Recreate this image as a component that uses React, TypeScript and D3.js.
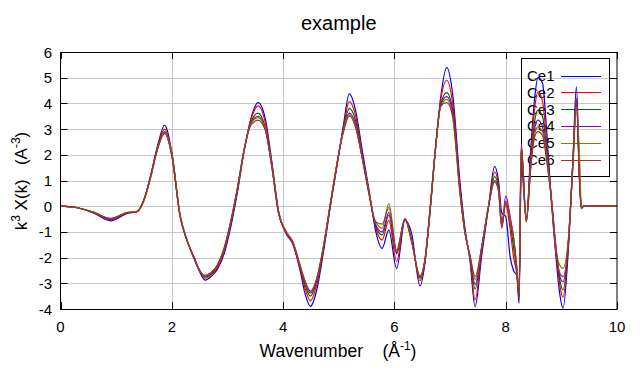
import React, { useEffect, useRef } from 'react';
import * as d3 from 'd3';

// wavenumber grid (Å^-1) shared by all series
const kValues = [
  0, 0.3, 0.6, 0.9, 1.2, 1.37, 1.5, 1.62, 1.75, 1.87,
  2.0, 2.15, 2.27, 2.4, 2.5, 2.6, 2.7, 2.82, 2.94, 3.06,
  3.18, 3.3, 3.42, 3.55, 3.68, 3.8, 3.92, 4.05, 4.18, 4.3,
  4.4, 4.49, 4.6, 4.72, 4.85, 4.97, 5.08, 5.19, 5.3, 5.42,
  5.55, 5.66, 5.78, 5.9, 6.04, 6.19, 6.31, 6.46, 6.55, 6.64,
  6.73, 6.83, 6.94, 7.05, 7.18, 7.27, 7.36, 7.45, 7.57, 7.69,
  7.8, 7.87, 7.93, 8.0, 8.08, 8.14, 8.2, 8.24, 8.28, 8.37,
  8.45, 8.52, 8.58, 8.66, 8.74, 8.82, 8.9, 8.97, 9.03, 9.12,
  9.21, 9.27, 9.33, 9.36, 9.4, 10
];

const ce1 = [
  0, -0.06, -0.27, -0.57, -0.28, -0.22, 0.25, 1.2, 2.4, 3.15,
  2.1, -0.35, -1.3, -2.05, -2.55, -2.88, -2.75, -2.45, -1.85, -0.8,
  0.55, 2.15, 3.4, 4.03, 3.4, 1.7, -0.2, -1.05, -1.5, -2.45,
  -3.45, -3.9, -3.3, -1.85, 0.0, 1.6, 3.1, 4.37, 3.75, 2.2,
  0.55, -0.93, -1.64, -0.93, -2.43, -0.55, -1.06, -3.1, -2.2, -0.25,
  2.0, 4.2, 5.4, 4.3, 0.9, -0.9, -2.15, -3.91, -1.9, -0.05,
  1.55, 1.0, -0.26, -0.4, -1.97, -2.5, -2.7, -3.78, 1.6, -0.5,
  2.2, 4.2, 5.0, 4.8, 2.8, 0.2, -1.9, -3.39, -3.97, -1.9,
  1.9, 4.65, 1.0, -0.08, 0, 0
];

const ce2 = [
  0, -0.06, -0.25, -0.52, -0.26, -0.22, 0.25, 1.18, 2.35, 3.0,
  2.05, -0.38, -1.32, -2.0, -2.5, -2.8, -2.68, -2.38, -1.75, -0.7,
  0.62, 2.18, 3.35, 3.9, 3.25, 1.6, -0.25, -1.02, -1.48, -2.38,
  -3.25, -3.68, -3.1, -1.75, 0.05, 1.63, 3.0, 4.07, 3.55, 2.05,
  0.48, -0.8, -1.32, -0.55, -2.15, -0.5, -1.3, -2.9, -2.12, -0.2,
  2.03, 4.1, 4.9, 3.95, 0.7, -0.98, -2.05, -3.65, -1.7, -0.03,
  1.33, 0.85, -0.6, 0.05, -0.9, -1.97, -2.65, -3.6, 2.2, -0.55,
  1.9, 3.8, 4.45, 4.1, 2.4, 0.3, -1.75, -3.05, -3.55, -1.7,
  1.8, 4.15, 0.9, -0.08, 0, 0
];

const ce3 = [
  0, -0.06, -0.25, -0.5, -0.25, -0.21, 0.25, 1.15, 2.3, 2.9,
  2.0, -0.4, -1.32, -2.0, -2.5, -2.75, -2.64, -2.32, -1.7, -0.65,
  0.68, 2.2, 3.25, 3.62, 3.05, 1.55, -0.28, -1.0, -1.45, -2.32,
  -3.1, -3.5, -2.95, -1.7, 0.08, 1.65, 2.95, 3.81, 3.35, 1.95,
  0.45, -0.75, -1.12, -0.35, -1.85, -0.5, -1.35, -2.8, -2.1, -0.16,
  2.06, 3.95, 4.42, 3.7, 0.6, -1.02, -1.98, -3.23, -1.62, -0.03,
  1.15, 0.75, -0.75, 0.15, -0.6, -1.6, -2.5, -3.5, 2.2, -0.6,
  1.7, 3.3, 3.74, 3.5, 2.1, 0.3, -1.6, -2.85, -3.26, -1.6,
  1.8, 4.1, 0.9, -0.08, 0, 0
];

const ce4 = [
  0, -0.06, -0.24, -0.49, -0.25, -0.22, 0.25, 1.15, 2.3, 2.85,
  2.0, -0.4, -1.32, -2.0, -2.5, -2.7, -2.6, -2.3, -1.65, -0.6,
  0.7, 2.2, 3.2, 3.5, 3.0, 1.5, -0.3, -1.0, -1.45, -2.3,
  -3.0, -3.38, -2.9, -1.65, 0.1, 1.67, 2.9, 3.62, 3.2, 1.9,
  0.42, -0.7, -1.0, -0.25, -1.8, -0.48, -1.35, -2.75, -2.08, -0.15,
  2.06, 3.9, 4.26, 3.6, 0.55, -1.05, -1.95, -3.05, -1.58, -0.02,
  1.0, 0.7, -0.8, 0.4, -0.4, -1.2, -2.4, -3.4, 2.45, -0.6,
  1.6, 3.0, 3.35, 3.1, 1.9, 0.35, -1.5, -2.7, -2.94, -1.55,
  1.8, 4.2, 0.9, -0.08, 0, 0
];

const ce5 = [
  0, -0.06, -0.24, -0.47, -0.24, -0.2, 0.2, 1.1, 2.25, 2.85,
  2.05, -0.35, -1.28, -2.0, -2.5, -2.72, -2.6, -2.3, -1.65, -0.6,
  0.7, 2.2, 3.2, 3.45, 3.0, 1.55, -0.25, -0.95, -1.4, -2.25,
  -2.95, -3.33, -2.85, -1.6, 0.12, 1.7, 2.9, 3.55, 3.1, 1.9,
  0.45, -0.6, -0.85, 0.1, -1.7, -0.5, -1.4, -2.7, -2.05, -0.15,
  2.05, 3.85, 4.16, 3.4, 0.45, -1.06, -1.92, -2.85, -1.55, 0.0,
  0.98, 0.63, -0.8, 0.2, -0.5, -1.2, -2.4, -3.4, 2.3, -0.6,
  1.5, 2.8, 3.1, 2.9, 1.8, 0.3, -1.7, -2.29, -2.42, -1.4,
  1.6, 3.9, 1.79, -0.1, 0, 0
];

const ce6 = [
  0, -0.06, -0.24, -0.48, -0.25, -0.22, 0.25, 1.15, 2.28, 2.82,
  1.95, -0.42, -1.32, -2.0, -2.5, -2.7, -2.6, -2.28, -1.62, -0.58,
  0.72, 2.2, 3.15, 3.35, 2.95, 1.5, -0.3, -1.0, -1.42, -2.28,
  -2.95, -3.3, -2.85, -1.65, 0.1, 1.67, 2.85, 3.5, 3.1, 1.9,
  0.4, -0.6, -0.7, -0.05, -1.75, -0.5, -1.35, -2.75, -2.05, -0.12,
  2.08, 3.9, 4.03, 3.5, 0.5, -1.06, -1.95, -2.74, -1.58, -0.03,
  0.95, 0.6, -0.86, 0.17, -0.55, -1.2, -2.48, -3.45, 2.3, -0.6,
  1.5, 2.7, 2.9, 2.75, 1.7, 0.3, -1.6, -2.6, -2.74, -1.55,
  1.79, 4.1, 0.7, -0.08, 0, 0
];

const seriesNames = ['Ce1', 'Ce2', 'Ce3', 'Ce4', 'Ce5', 'Ce6'];
const seriesValues = [ce1, ce2, ce3, ce4, ce5, ce6];
const seriesColors = ['#0000e0', '#ff0000', '#006400', '#8c00c8', '#808000', '#a03232'];

const xTicks = [0, 2, 4, 6, 8, 10];
const yTicks = [-4, -3, -2, -1, 0, 1, 2, 3, 4, 5, 6];

function App() {
  const ref = useRef<SVGSVGElement>(null);

  useEffect(() => {
    const W = 640;
    const H = 384;
    const left = 60.5, right = 617, top = 52, bottom = 309;
    const font = '"Liberation Sans", Arial, sans-serif';

    const svg = d3.select(ref.current);
    svg.selectAll('*').remove();
    svg.attr('width', W).attr('height', H);

    svg.append('rect').attr('width', W).attr('height', H).attr('fill', '#fff');

    const x = d3.scaleLinear().domain([0, 10]).range([left, right]);
    const y = d3.scaleLinear().domain([-4, 6]).range([bottom, top]);

    // grid
    const grid = svg.append('g').attr('stroke', '#c8c8c8').attr('stroke-width', 1);
    grid.selectAll('.gx')
      .data(xTicks.slice(1, -1))
      .join('line')
      .attr('x1', d => Math.round(x(d)) + 0.5)
      .attr('x2', d => Math.round(x(d)) + 0.5)
      .attr('y1', top)
      .attr('y2', bottom);
    grid.selectAll('.gy')
      .data(yTicks.slice(1, -1))
      .join('line')
      .attr('x1', left)
      .attr('x2', right)
      .attr('y1', d => Math.round(y(d)) + 0.5)
      .attr('y2', d => Math.round(y(d)) + 0.5);

    // ticks on all four sides, pointing inwards
    const tickLen = 7;
    const ticks = svg.append('g').attr('stroke', '#000').attr('stroke-width', 1);
    xTicks.forEach(t => {
      const px = Math.round(x(t)) + 0.5;
      ticks.append('line').attr('x1', px).attr('x2', px).attr('y1', bottom).attr('y2', bottom - tickLen);
      ticks.append('line').attr('x1', px).attr('x2', px).attr('y1', top).attr('y2', top + tickLen);
    });
    yTicks.forEach(t => {
      const py = Math.round(y(t)) + 0.5;
      ticks.append('line').attr('x1', left).attr('x2', left + tickLen).attr('y1', py).attr('y2', py);
      ticks.append('line').attr('x1', right).attr('x2', right - tickLen).attr('y1', py).attr('y2', py);
    });

    // tick labels
    svg.append('g')
      .selectAll('text')
      .data(xTicks)
      .join('text')
      .attr('x', d => x(d))
      .attr('y', 332)
      .attr('text-anchor', 'middle')
      .attr('font-family', font)
      .attr('font-size', 15)
      .text(d => d);
    svg.append('g')
      .selectAll('text')
      .data(yTicks)
      .join('text')
      .attr('x', 52)
      .attr('y', d => y(d) + 5.5)
      .attr('text-anchor', 'end')
      .attr('font-family', font)
      .attr('font-size', 15)
      .text(d => d);

    // title and axis labels
    svg.append('text')
      .attr('x', (left + right) / 2)
      .attr('y', 30)
      .attr('text-anchor', 'middle')
      .attr('font-family', font)
      .attr('font-size', 20)
      .text('example');

    const xl = svg.append('text')
      .attr('x', 338)
      .attr('y', 357)
      .attr('text-anchor', 'middle')
      .attr('font-family', font)
      .attr('font-size', 17.5)
      .style('white-space', 'pre');
    xl.append('tspan').text('Wavenumber    (Å');
    xl.append('tspan').attr('font-size', 12).attr('dy', -7).text('-1');
    xl.append('tspan').attr('dy', 7).text(')');

    const yl = svg.append('text')
      .attr('transform', 'translate(27,181) rotate(-90)')
      .attr('text-anchor', 'middle')
      .attr('font-family', font)
      .attr('font-size', 17)
      .style('white-space', 'pre');
    yl.append('tspan').text('k');
    yl.append('tspan').attr('font-size', 12).attr('dy', -7).text('3');
    yl.append('tspan').attr('dy', 7).text(' X(k)   (A');
    yl.append('tspan').attr('font-size', 12).attr('dy', -7).text('-3');
    yl.append('tspan').attr('dy', 7).text(')');

    // legend (box and labels under the curves)
    const legend = svg.append('g');
    legend.append('rect')
      .attr('x', 521.5)
      .attr('y', 58.5)
      .attr('width', 88)
      .attr('height', 118)
      .attr('fill', 'none')
      .attr('stroke', '#000');
    seriesNames.forEach((name, i) => {
      const ly = 75.5 + i * 16.8;
      legend.append('text')
        .attr('x', 527)
        .attr('y', ly + 5.5)
        .attr('font-family', font)
        .attr('font-size', 15)
        .text(name);
      legend.append('line')
        .attr('x1', 561)
        .attr('x2', 601)
        .attr('y1', Math.round(ly) + 0.5)
        .attr('y2', Math.round(ly) + 0.5)
        .attr('stroke', seriesColors[i])
        .attr('stroke-width', 1.2);
    });

    // curves
    const line = d3.line<number>()
      .x((_, i) => x(kValues[i]))
      .y(d => y(d))
      .curve(d3.curveMonotoneX);

    svg.append('g')
      .selectAll('path')
      .data(seriesValues)
      .join('path')
      .attr('d', d => line(d))
      .attr('fill', 'none')
      .attr('stroke', (_, i) => seriesColors[i])
      .attr('stroke-width', 1.2)
      .attr('stroke-linejoin', 'round');

    // frame
    svg.append('rect')
      .attr('x', left)
      .attr('y', top + 0.5)
      .attr('width', right - left)
      .attr('height', bottom - top)
      .attr('fill', 'none')
      .attr('stroke', '#000');
  }, []);

  return <svg ref={ref} style={{ position: 'absolute', left: 0, top: 0 }} />;
}

export default App;
